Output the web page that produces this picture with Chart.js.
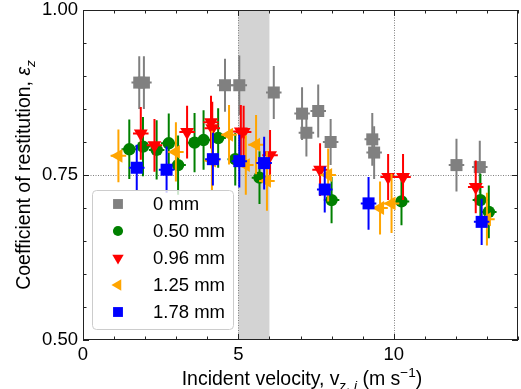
<!DOCTYPE html>
<html><head><meta charset="utf-8">
<script src="https://cdn.jsdelivr.net/npm/chart.js@4"></script>
<style>html,body{margin:0;padding:0;background:#fff}</style>
</head><body>
<canvas id="c" width="521" height="389" style="width:521px;height:389px;display:block"></canvas>
<script>
// ---- data ----
const seriesLabels = ['0 mm', '0.50 mm', '0.96 mm', '1.25 mm', '1.78 mm'];

const x0 = [1.81, 1.96, 4.57, 5.03, 6.14, 7.05, 7.19, 7.57, 7.97, 9.31, 9.37, 12.02, 12.77];
const y0 = [0.890, 0.890, 0.886, 0.886, 0.875, 0.843, 0.814, 0.847, 0.800, 0.804, 0.784, 0.765, 0.762];
const e0 = [0.040, 0.040, 0.040, 0.045, 0.040, 0.040, 0.036, 0.040, 0.035, 0.040, 0.040, 0.040, 0.040];

const x050 = [1.49, 1.93, 2.37, 2.76, 3.06, 3.59, 3.88, 4.35, 4.90, 5.68, 8.00, 10.25, 12.79, 13.06];
const y050 = [0.789, 0.793, 0.788, 0.798, 0.765, 0.799, 0.803, 0.806, 0.774, 0.746, 0.712, 0.710, 0.712, 0.694];
const e050 = [0.045, 0.045, 0.045, 0.045, 0.045, 0.045, 0.045, 0.045, 0.040, 0.040, 0.035, 0.036, 0.040, 0.040];

const x096 = [1.86, 2.30, 3.35, 4.12, 4.16, 5.08, 5.17, 6.02, 7.63, 9.82, 10.30, 12.64];
const y096 = [0.813, 0.795, 0.815, 0.830, 0.821, 0.816, 0.815, 0.780, 0.758, 0.747, 0.747, 0.732];
const e096 = [0.040, 0.040, 0.040, 0.040, 0.040, 0.040, 0.040, 0.038, 0.040, 0.035, 0.035, 0.040];

const x125 = [1.14, 2.99, 4.15, 4.70, 5.24, 5.57, 5.92, 7.89, 9.56, 9.93, 13.00];
const y125 = [0.779, 0.785, 0.772, 0.811, 0.765, 0.796, 0.741, 0.750, 0.700, 0.707, 0.683];
const e125 = [0.040, 0.045, 0.045, 0.045, 0.045, 0.045, 0.045, 0.040, 0.040, 0.045, 0.040];

const x178 = [1.73, 2.69, 4.18, 5.03, 5.83, 7.78, 9.19, 12.83];
const y178 = [0.761, 0.758, 0.774, 0.771, 0.768, 0.728, 0.707, 0.679];
const e178 = [0.035, 0.035, 0.040, 0.040, 0.040, 0.035, 0.040, 0.035];

const xErrAll = 0.25;
const xTickLabels = ['0', '5', '10'];
const yTickLabels = ['0.50', '0.75', '1.00'];

const FONT = '"Liberation Sans", Arial, sans-serif';
const FS = 18.5;   // ticks & legend
const TFS = 19.5;  // axis titles

function pts(xs, ys) { return xs.map((x, i) => ({x: x, y: ys[i]})); }

const styles = [
  {color: '#808080', pointStyle: 'rect', radius: 8.5, rotation: 0},
  {color: '#008000', pointStyle: 'circle', radius: 6.2, rotation: 0},
  {color: '#ff0000', pointStyle: 'triangle', radius: 8, rotation: 180},
  {color: '#ffa500', pointStyle: 'triangle', radius: 8, rotation: 270},
  {color: '#0000ff', pointStyle: 'rect', radius: 8.5, rotation: 0}
];
const xsAll = [x0, x050, x096, x125, x178];
const ysAll = [y0, y050, y096, y125, y178];
const esAll = [e0, e050, e096, e125, e178];

const datasets = seriesLabels.map((lab, k) => ({
  label: lab,
  data: pts(xsAll[k], ysAll[k]),
  yErr: esAll[k],
  backgroundColor: styles[k].color,
  borderColor: styles[k].color,
  borderWidth: 0,
  pointStyle: styles[k].pointStyle,
  pointRadius: styles[k].radius,
  pointRotation: styles[k].rotation,
  order: 5 - k
}));

function runFont(r) {
  const size = (r.sub || r.sup) ? TFS * 0.7 : TFS;
  return (r.italic ? 'italic ' : '') + size + 'px ' + FONT;
}
function drawRuns(ctx, runs, cx, baseY) {
  let total = 0;
  runs.forEach(r => { ctx.font = runFont(r); r.w = ctx.measureText(r.text).width; total += r.w; });
  let x = cx - total / 2;
  ctx.textBaseline = 'alphabetic';
  ctx.textAlign = 'left';
  runs.forEach(r => {
    ctx.font = runFont(r);
    let dy = 0;
    if (r.sub) dy = TFS * 0.25;
    if (r.sup) dy = -TFS * 0.42;
    ctx.fillText(r.text, x, baseY + dy);
    x += r.w;
  });
}

const decorPlugin = {
  id: 'decor',
  beforeDatasetsDraw(chart) {
    const {ctx, chartArea: a, scales: {x, y}} = chart;
    ctx.save();
    ctx.fillStyle = '#d3d3d3';
    const bx0 = x.getPixelForValue(5), bx1 = x.getPixelForValue(6);
    ctx.fillRect(bx0, a.top, bx1 - bx0, a.bottom - a.top);
    ctx.strokeStyle = '#808080';
    ctx.lineWidth = 1;
    ctx.setLineDash([1, 1.5]);
    [5, 10].forEach(v => {
      const px = Math.round(x.getPixelForValue(v)) + 0.5;
      ctx.beginPath(); ctx.moveTo(px, a.top); ctx.lineTo(px, a.bottom); ctx.stroke();
    });
    const py = Math.round(y.getPixelForValue(0.75)) + 0.5;
    ctx.beginPath(); ctx.moveTo(a.left, py); ctx.lineTo(a.right, py); ctx.stroke();
    ctx.restore();
  },
  beforeDatasetDraw(chart, args) {
    const {ctx, scales: {x, y}} = chart;
    const ds = chart.data.datasets[args.index];
    ctx.save();
    ctx.strokeStyle = ds.borderColor;
    ctx.lineWidth = 2;
    ds.data.forEach((p, i) => {
      const px = x.getPixelForValue(p.x), py = y.getPixelForValue(p.y);
      const e = ds.yErr[i];
      ctx.beginPath();
      ctx.moveTo(px, y.getPixelForValue(p.y - e));
      ctx.lineTo(px, y.getPixelForValue(p.y + e));
      ctx.moveTo(x.getPixelForValue(p.x - xErrAll), py);
      ctx.lineTo(x.getPixelForValue(p.x + xErrAll), py);
      ctx.stroke();
    });
    ctx.restore();
  },
  afterDraw(chart) {
    const {ctx, chartArea: a, scales: {x, y}} = chart;
    ctx.save();
    ctx.strokeStyle = '#222';
    ctx.lineWidth = 1;
    ctx.strokeRect(Math.round(a.left) + 0.5, Math.round(a.top) + 0.5,
                   Math.round(a.right - a.left) - 1, Math.round(a.bottom - a.top) - 1);
    ctx.beginPath();
    for (let v = 0; v <= 14; v += 1) {
      const px = Math.round(x.getPixelForValue(v)) + 0.5;
      const L = (v % 5 === 0) ? 6 : 3.5;
      ctx.moveTo(px, a.bottom); ctx.lineTo(px, a.bottom - L);
      ctx.moveTo(px, a.top); ctx.lineTo(px, a.top + L);
    }
    for (let k = 0; k <= 10; k++) {
      const v = 0.5 + k * 0.05;
      const py = Math.round(y.getPixelForValue(v)) + 0.5;
      const L = (k % 5 === 0) ? 6 : 3.5;
      ctx.moveTo(a.left, py); ctx.lineTo(a.left + L, py);
      ctx.moveTo(a.right, py); ctx.lineTo(a.right - L, py);
    }
    ctx.stroke();

    ctx.fillStyle = '#000';
    drawRuns(ctx, [
      {text: 'Incident velocity, v'},
      {text: 'z, ', sub: true},
      {text: 'i', sub: true, italic: true},
      {text: ' (m s'},
      {text: '\u22121', sup: true},
      {text: ')'}
    ], 302, 385);
    ctx.save();
    ctx.translate(30, (a.top + a.bottom) / 2);
    ctx.rotate(-Math.PI / 2);
    drawRuns(ctx, [
      {text: 'Coefficient of restitution, '},
      {text: '\u03b5', italic: true},
      {text: 'z', sub: true, italic: true}
    ], 0, 0);
    ctx.restore();

    // legend (inside plot, lower left)
    const lx = 92.5, ly = 190.5, lw = 141, lh = 139;
    ctx.fillStyle = 'rgba(255,255,255,0.8)';
    ctx.strokeStyle = '#cccccc';
    ctx.lineWidth = 1;
    ctx.beginPath();
    ctx.roundRect(lx, ly, lw, lh, 4);
    ctx.fill(); ctx.stroke();
    chart.data.datasets.forEach((ds, k) => {
      const ry = 204 + k * 27;
      ctx.fillStyle = ds.backgroundColor;
      ctx.strokeStyle = ds.backgroundColor;
      Chart.helpers.drawPoint(ctx, {
        pointStyle: ds.pointStyle, radius: ds.pointRadius * 0.82,
        rotation: ds.pointRotation, borderWidth: 0
      }, 118, ry);
      ctx.fillStyle = '#000';
      ctx.font = FS + 'px ' + FONT;
      ctx.textAlign = 'left';
      ctx.textBaseline = 'middle';
      ctx.fillText(ds.label, 153, ry + 1);
    });
    ctx.restore();
  }
};

new Chart(document.getElementById('c'), {
  type: 'scatter',
  data: {datasets: datasets},
  options: {
    responsive: false,
    animation: false,
    devicePixelRatio: 1,
    layout: {autoPadding: false, padding: {left: 0, right: 3, top: 10, bottom: 0}},
    plugins: {legend: {display: false}, tooltip: {enabled: false}},
    scales: {
      x: {
        type: 'linear', min: 0, max: 14,
        grid: {display: false, drawTicks: false},
        border: {display: false},
        ticks: {
          stepSize: 5, includeBounds: false, padding: 4, color: '#000',
          font: {family: FONT, size: FS},
          callback: (v) => { const s = String(v); return xTickLabels.includes(s) ? s : ''; }
        },
        afterFit: (s) => { s.height = 49; s.paddingLeft = 0; s.paddingRight = 0; }
      },
      y: {
        type: 'linear', min: 0.5, max: 1.0,
        grid: {display: false, drawTicks: false},
        border: {display: false},
        ticks: {
          stepSize: 0.25, padding: 5, color: '#000',
          font: {family: FONT, size: FS},
          callback: (v) => { const s = Number(v).toFixed(2); return yTickLabels.includes(s) ? s : ''; }
        },
        afterFit: (s) => { s.width = 83; s.paddingTop = 0; s.paddingBottom = 0; }
      }
    }
  },
  plugins: [decorPlugin]
});
</script>
</body></html>
